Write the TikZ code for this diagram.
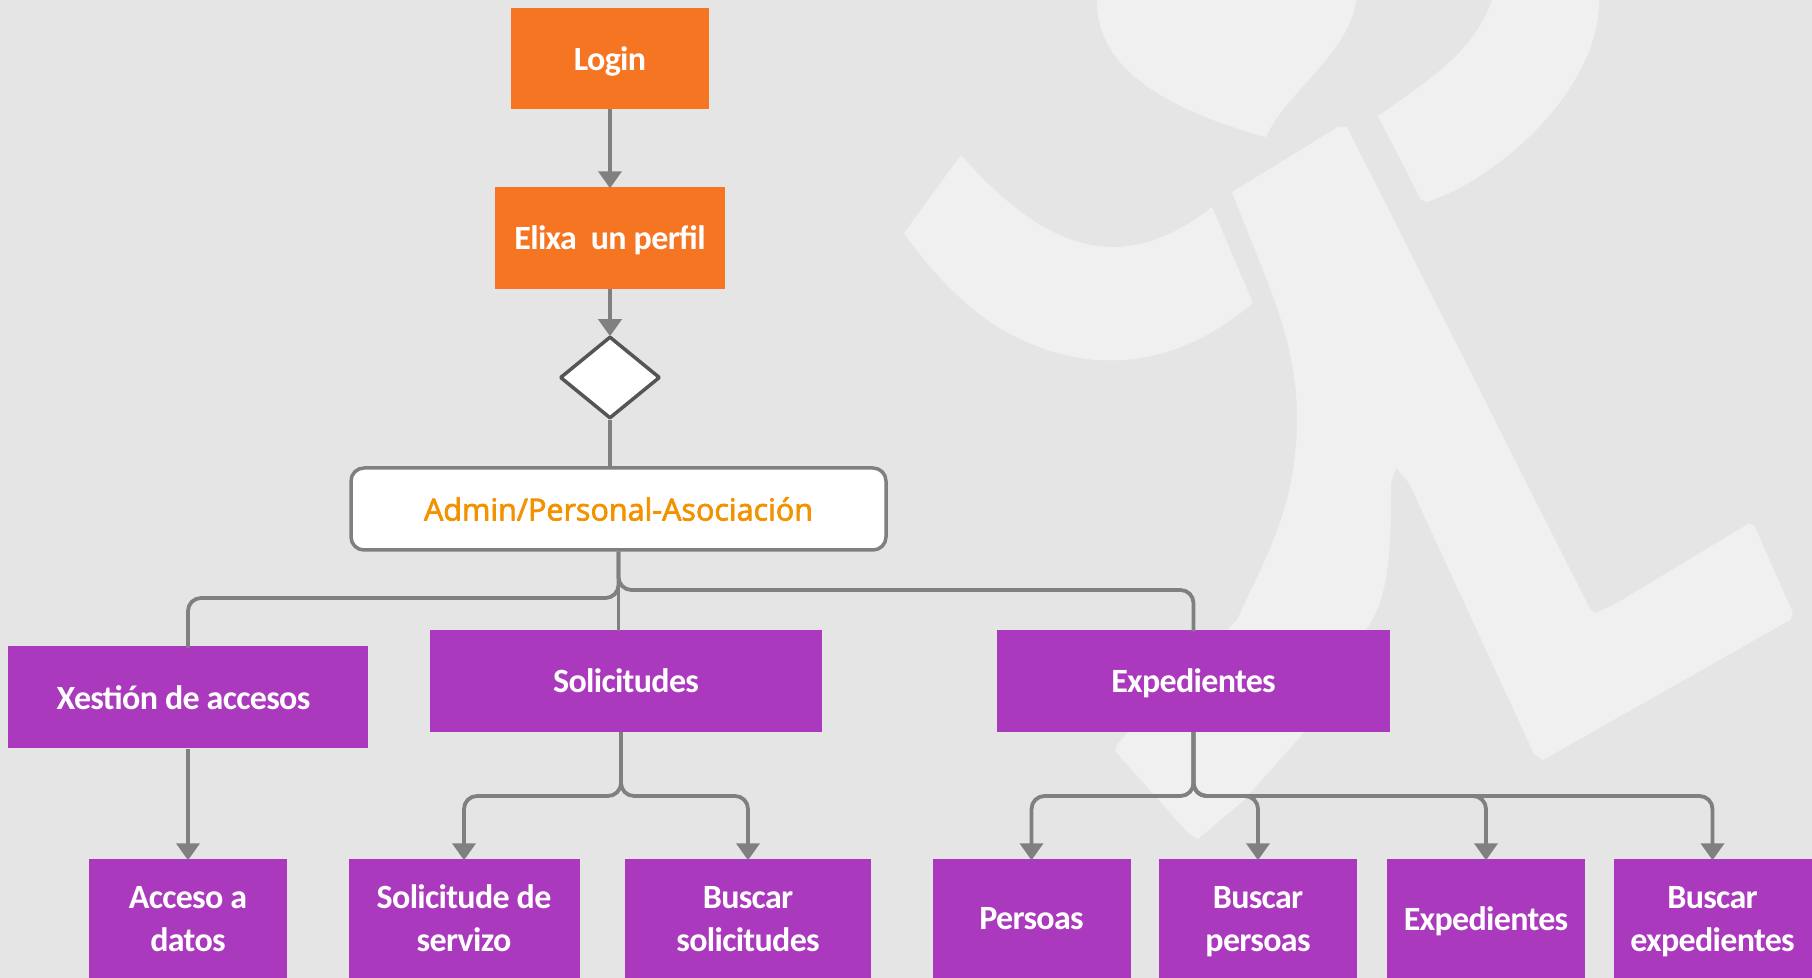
\documentclass[tikz,border=0pt]{standalone}
\usepackage{fontspec}
\setmainfont{Carlito}[LetterSpace=-2]
\newfontfamily\adminfont{Open Sans}[RawFeature={embolden=2.4}]
\usepackage{tikz}
\usetikzlibrary{arrows.meta,shapes.geometric}
\definecolor{bgcol}{HTML}{E5E5E5}
\definecolor{markcol}{HTML}{F0F0F0}
\definecolor{loginorange}{HTML}{F57522}
\definecolor{menupurple}{HTML}{AB39BD}
\definecolor{admintext}{HTML}{F39200}
\definecolor{edgecol}{HTML}{808080}
\definecolor{diamondcol}{HTML}{555555}

\begin{document}
\begin{tikzpicture}[>={Triangle[length=17bp,width=23bp]},line join=bevel,
  edge/.style={draw=edgecol,line width=3.8bp,rounded corners=13bp,shorten >=-1.5bp},
  orangebox/.style={fill=loginorange,inner sep=0pt,minimum height=102bp,text=white,align=center,text depth=0pt,font=\bfseries\fontsize{34bp}{43bp}\selectfont},
  purplebox/.style={orangebox,fill=menupurple},
  leafbox/.style={purplebox,minimum height=119bp},
  choice/.style={diamond,aspect=1.2,draw=diamondcol,fill=white,line width=3.5bp,inner sep=0pt,minimum width=100bp,minimum height=82bp},
  adminbox/.style={draw=edgecol,fill=white,line width=3.5bp,rounded corners=13bp,inner sep=0pt,minimum width=535bp,minimum height=82bp,text=admintext,font=\adminfont\fontsize{30.5bp}{36bp}\selectfont},
]
  \useasboundingbox (0bp,0bp) rectangle (1812bp,978bp);
  \fill [bgcol] (0bp,0bp) rectangle (1812bp,978bp);
  % Watermark
  \fill [markcol] (1097bp,978bp) .. controls (1096bp,930bp) and (1130bp,878bp) .. (1266bp,841bp) .. controls (1285bp,885bp) and (1350bp,925bp) .. (1356bp,978bp) -- cycle;
  \fill [markcol] (1492bp,978bp) .. controls (1475bp,930bp) and (1440bp,905bp) .. (1378bp,862bp) -- (1421bp,778bp) -- (1427bp,776bp) .. controls (1500bp,800bp) and (1600bp,890bp) .. (1599bp,978bp) -- cycle;
  \fill [markcol] (961bp,823bp) .. controls (1030bp,745bp) and (1110bp,690bp) .. (1212bp,771bp) -- (1253bp,675bp) .. controls (1170bp,605bp) and (1080bp,600bp) .. (993bp,654bp) .. controls (955bp,680bp) and (925bp,715bp) .. (904bp,745bp) -- cycle;
  \fill [markcol] (1232bp,786bp) -- (1338bp,851bp) -- (1347bp,851bp) -- (1356bp,833bp) -- (1590bp,369bp) -- (1596bp,365bp) -- (1617bp,375bp) -- (1748bp,454bp) -- (1754bp,453bp) -- (1793bp,365bp) -- (1790bp,358bp) -- (1543bp,218bp) -- (1534bp,224bp) -- (1409bp,495bp) -- (1396bp,510bp) -- (1391bp,495bp) .. controls (1391bp,430bp) and (1390bp,380bp) .. (1365bp,347bp) -- (1302bp,243bp) -- (1243bp,177bp) -- (1198bp,139bp) -- (1189bp,144bp) -- (1115bp,227bp) -- (1118bp,235bp) -- (1237bp,358bp) .. controls (1265bp,420bp) and (1297bp,470bp) .. (1297bp,560bp) .. controls (1297bp,640bp) and (1265bp,700bp) .. (1232bp,786bp) -- cycle;
  % Node: login
  \node [orangebox,minimum width=198bp,minimum height=101bp] (login) at (610bp,919.5bp) {Login};
  % Node: perfil
  \node [orangebox,minimum width=230bp] (perfil) at (610bp,740bp) {Elixa~~un perfil};
  % Node: choice
  \node [choice] (choice) at (610bp,600.5bp) {};
  % Node: admin
  \node [adminbox] (admin) at (618.5bp,469bp) {Admin/Personal-Asociación};
  % Node: xestion
  \node [purplebox,minimum width=360bp] (xestion) at (188bp,280.5bp) {Xestión de accesos\hspace{9bp}};
  % Node: solicitudes
  \node [purplebox,minimum width=392bp] (solicitudes) at (626bp,297bp) {Solicitudes};
  % Node: expedientes
  \node [purplebox,minimum width=393bp] (expedientes) at (1193.5bp,297bp) {Expedientes};
  % Node: acceso
  \node [leafbox,minimum width=198bp] (acceso) at (188bp,59.5bp) {Acceso a\\datos};
  % Node: servizo
  \node [leafbox,minimum width=231bp] (servizo) at (464bp,59.5bp) {Solicitude de\\servizo};
  % Node: buscasol
  \node [leafbox,minimum width=246bp] (buscasol) at (748bp,59.5bp) {Buscar\\solicitudes};
  % Node: persoas
  \node [leafbox,minimum width=198bp] (persoas) at (1031.5bp,59.5bp) {Persoas};
  % Node: buscaper
  \node [leafbox,minimum width=198bp] (buscaper) at (1258bp,59.5bp) {Buscar\\persoas};
  % Node: exped
  \node [leafbox,minimum width=198bp] (exped) at (1486bp,59.5bp) {Expedientes};
  % Node: buscaexp
  \node [leafbox,minimum width=198bp] (buscaexp) at (1712.5bp,59.5bp) {Buscar\\expedientes};
  % Edge: login -> perfil
  \draw [edge,->] (login) -- (perfil);
  % Edge: perfil -> choice
  \draw [edge,->] (perfil) -- (choice);
  % Edge: choice -> admin
  \draw [edge] (choice) -- (admin.north -| choice);
  % Edge: admin -> xestion
  \draw [edge] (admin.south) -- (618.5bp,380bp) -| (xestion.north);
  % Edge: admin -> solicitudes
  \draw [edge] (admin.south) -- (admin.south |- solicitudes.north);
  % Edge: admin -> expedientes
  \draw [edge] (admin.south) -- (618.5bp,388bp) -| (expedientes.north);
  % Edge: xestion -> acceso
  \draw [edge,->] (xestion.south) -- (acceso.north);
  % Edge: solicitudes -> servizo
  \draw [edge,->] (621bp,246bp) -- (621bp,182bp) -| (servizo.north);
  % Edge: solicitudes -> buscasol
  \draw [edge,->] (621bp,246bp) -- (621bp,182bp) -| (buscasol.north);
  % Edge: expedientes -> ...
  \draw [edge,->] (expedientes.south) -- (1193.5bp,182bp) -| (persoas.north);
  \draw [edge,->] (expedientes.south) -- (1193.5bp,182bp) -| (buscaper.north);
  \draw [edge,->] (expedientes.south) -- (1193.5bp,182bp) -| (exped.north);
  \draw [edge,->] (expedientes.south) -- (1193.5bp,182bp) -| (buscaexp.north);
\end{tikzpicture}
\end{document}
